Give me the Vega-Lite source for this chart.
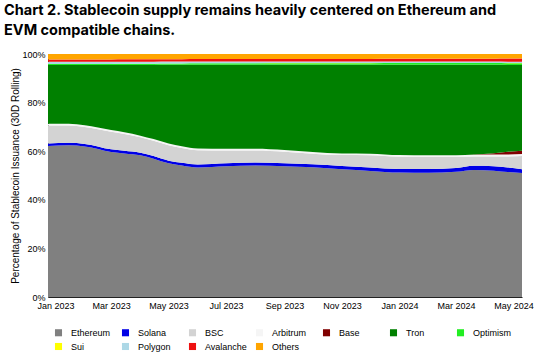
{
  "$schema": "https://vega.github.io/schema/vega-lite/v6.json",
  "autosize": {"type": "none"},
  "width": 474,
  "height": 243,
  "padding": {"left": 48, "top": 54, "right": 12, "bottom": 59},
  "background": "white",
  "title": {
    "text": ["Chart 2. Stablecoin supply remains heavily centered on Ethereum and", "EVM compatible chains."],
    "anchor": "start",
    "frame": "group",
    "dx": -44,
    "offset": 12,
    "font": "Inter",
    "fontSize": 14.5,
    "fontWeight": "bold",
    "lineHeight": 20,
    "color": "#000000"
  },
  "datasets": {
    "shares": [
      {"date":"2022-12-24","chain":"Ethereum","share":62.1},{"date":"2022-12-24","chain":"Solana","share":1.1},{"date":"2022-12-24","chain":"BSC","share":7.4},{"date":"2022-12-24","chain":"Arbitrum","share":0.7},{"date":"2022-12-24","chain":"Base","share":0},{"date":"2022-12-24","chain":"Tron","share":24.15},{"date":"2022-12-24","chain":"Optimism","share":0.4},{"date":"2022-12-24","chain":"Sui","share":0.05},{"date":"2022-12-24","chain":"Polygon","share":0.9},{"date":"2022-12-24","chain":"Avalanche","share":0.9},{"date":"2022-12-24","chain":"Others","share":2.3},
      {"date":"2023-01-15","chain":"Ethereum","share":62.4},{"date":"2023-01-15","chain":"Solana","share":1.1},{"date":"2023-01-15","chain":"BSC","share":7.1},{"date":"2023-01-15","chain":"Arbitrum","share":0.7},{"date":"2023-01-15","chain":"Base","share":0},{"date":"2023-01-15","chain":"Tron","share":24.15},{"date":"2023-01-15","chain":"Optimism","share":0.4},{"date":"2023-01-15","chain":"Sui","share":0.05},{"date":"2023-01-15","chain":"Polygon","share":0.9},{"date":"2023-01-15","chain":"Avalanche","share":0.9},{"date":"2023-01-15","chain":"Others","share":2.3},
      {"date":"2023-02-01","chain":"Ethereum","share":61.9},{"date":"2023-02-01","chain":"Solana","share":1.1},{"date":"2023-02-01","chain":"BSC","share":7.0},{"date":"2023-02-01","chain":"Arbitrum","share":0.7},{"date":"2023-02-01","chain":"Base","share":0},{"date":"2023-02-01","chain":"Tron","share":24.75},{"date":"2023-02-01","chain":"Optimism","share":0.4},{"date":"2023-02-01","chain":"Sui","share":0.05},{"date":"2023-02-01","chain":"Polygon","share":0.9},{"date":"2023-02-01","chain":"Avalanche","share":0.9},{"date":"2023-02-01","chain":"Others","share":2.3},
      {"date":"2023-03-01","chain":"Ethereum","share":59.7},{"date":"2023-03-01","chain":"Solana","share":1.1},{"date":"2023-03-01","chain":"BSC","share":7.2},{"date":"2023-03-01","chain":"Arbitrum","share":0.7},{"date":"2023-03-01","chain":"Base","share":0},{"date":"2023-03-01","chain":"Tron","share":26.75},{"date":"2023-03-01","chain":"Optimism","share":0.4},{"date":"2023-03-01","chain":"Sui","share":0.05},{"date":"2023-03-01","chain":"Polygon","share":0.9},{"date":"2023-03-01","chain":"Avalanche","share":0.9},{"date":"2023-03-01","chain":"Others","share":2.3},
      {"date":"2023-03-15","chain":"Ethereum","share":59.1},{"date":"2023-03-15","chain":"Solana","share":1.1},{"date":"2023-03-15","chain":"BSC","share":6.9},{"date":"2023-03-15","chain":"Arbitrum","share":0.7},{"date":"2023-03-15","chain":"Base","share":0},{"date":"2023-03-15","chain":"Tron","share":27.7},{"date":"2023-03-15","chain":"Optimism","share":0.45},{"date":"2023-03-15","chain":"Sui","share":0.05},{"date":"2023-03-15","chain":"Polygon","share":0.85},{"date":"2023-03-15","chain":"Avalanche","share":0.95},{"date":"2023-03-15","chain":"Others","share":2.2},
      {"date":"2023-04-01","chain":"Ethereum","share":58.3},{"date":"2023-04-01","chain":"Solana","share":1.1},{"date":"2023-04-01","chain":"BSC","share":6.3},{"date":"2023-04-01","chain":"Arbitrum","share":0.7},{"date":"2023-04-01","chain":"Base","share":0},{"date":"2023-04-01","chain":"Tron","share":29.1},{"date":"2023-04-01","chain":"Optimism","share":0.45},{"date":"2023-04-01","chain":"Sui","share":0.05},{"date":"2023-04-01","chain":"Polygon","share":0.85},{"date":"2023-04-01","chain":"Avalanche","share":0.95},{"date":"2023-04-01","chain":"Others","share":2.2},
      {"date":"2023-04-15","chain":"Ethereum","share":56.9},{"date":"2023-04-15","chain":"Solana","share":1.1},{"date":"2023-04-15","chain":"BSC","share":6.3},{"date":"2023-04-15","chain":"Arbitrum","share":0.7},{"date":"2023-04-15","chain":"Base","share":0},{"date":"2023-04-15","chain":"Tron","share":30.5},{"date":"2023-04-15","chain":"Optimism","share":0.45},{"date":"2023-04-15","chain":"Sui","share":0.05},{"date":"2023-04-15","chain":"Polygon","share":0.85},{"date":"2023-04-15","chain":"Avalanche","share":0.95},{"date":"2023-04-15","chain":"Others","share":2.2},
      {"date":"2023-05-01","chain":"Ethereum","share":55.0},{"date":"2023-05-01","chain":"Solana","share":1.1},{"date":"2023-05-01","chain":"BSC","share":6.4},{"date":"2023-05-01","chain":"Arbitrum","share":0.7},{"date":"2023-05-01","chain":"Base","share":0},{"date":"2023-05-01","chain":"Tron","share":32.35},{"date":"2023-05-01","chain":"Optimism","share":0.5},{"date":"2023-05-01","chain":"Sui","share":0.05},{"date":"2023-05-01","chain":"Polygon","share":0.8},{"date":"2023-05-01","chain":"Avalanche","share":0.95},{"date":"2023-05-01","chain":"Others","share":2.15},
      {"date":"2023-05-15","chain":"Ethereum","share":54.1},{"date":"2023-05-15","chain":"Solana","share":1.1},{"date":"2023-05-15","chain":"BSC","share":6.1},{"date":"2023-05-15","chain":"Arbitrum","share":0.7},{"date":"2023-05-15","chain":"Base","share":0},{"date":"2023-05-15","chain":"Tron","share":33.55},{"date":"2023-05-15","chain":"Optimism","share":0.5},{"date":"2023-05-15","chain":"Sui","share":0.05},{"date":"2023-05-15","chain":"Polygon","share":0.8},{"date":"2023-05-15","chain":"Avalanche","share":0.95},{"date":"2023-05-15","chain":"Others","share":2.15},
      {"date":"2023-06-01","chain":"Ethereum","share":53.3},{"date":"2023-06-01","chain":"Solana","share":1.2},{"date":"2023-06-01","chain":"BSC","share":5.9},{"date":"2023-06-01","chain":"Arbitrum","share":0.7},{"date":"2023-06-01","chain":"Base","share":0},{"date":"2023-06-01","chain":"Tron","share":34.5},{"date":"2023-06-01","chain":"Optimism","share":0.55},{"date":"2023-06-01","chain":"Sui","share":0.05},{"date":"2023-06-01","chain":"Polygon","share":0.75},{"date":"2023-06-01","chain":"Avalanche","share":1.0},{"date":"2023-06-01","chain":"Others","share":2.05},
      {"date":"2023-07-01","chain":"Ethereum","share":53.8},{"date":"2023-07-01","chain":"Solana","share":1.2},{"date":"2023-07-01","chain":"BSC","share":5.3},{"date":"2023-07-01","chain":"Arbitrum","share":0.7},{"date":"2023-07-01","chain":"Base","share":0},{"date":"2023-07-01","chain":"Tron","share":34.6},{"date":"2023-07-01","chain":"Optimism","share":0.55},{"date":"2023-07-01","chain":"Sui","share":0.05},{"date":"2023-07-01","chain":"Polygon","share":0.75},{"date":"2023-07-01","chain":"Avalanche","share":1.0},{"date":"2023-07-01","chain":"Others","share":2.05},
      {"date":"2023-08-01","chain":"Ethereum","share":54.1},{"date":"2023-08-01","chain":"Solana","share":1.2},{"date":"2023-08-01","chain":"BSC","share":5.0},{"date":"2023-08-01","chain":"Arbitrum","share":0.7},{"date":"2023-08-01","chain":"Base","share":0},{"date":"2023-08-01","chain":"Tron","share":34.6},{"date":"2023-08-01","chain":"Optimism","share":0.55},{"date":"2023-08-01","chain":"Sui","share":0.05},{"date":"2023-08-01","chain":"Polygon","share":0.75},{"date":"2023-08-01","chain":"Avalanche","share":1.0},{"date":"2023-08-01","chain":"Others","share":2.05},
      {"date":"2023-09-01","chain":"Ethereum","share":53.8},{"date":"2023-09-01","chain":"Solana","share":1.2},{"date":"2023-09-01","chain":"BSC","share":4.8},{"date":"2023-09-01","chain":"Arbitrum","share":0.7},{"date":"2023-09-01","chain":"Base","share":0},{"date":"2023-09-01","chain":"Tron","share":35.1},{"date":"2023-09-01","chain":"Optimism","share":0.6},{"date":"2023-09-01","chain":"Sui","share":0.05},{"date":"2023-09-01","chain":"Polygon","share":0.7},{"date":"2023-09-01","chain":"Avalanche","share":1.0},{"date":"2023-09-01","chain":"Others","share":2.05},
      {"date":"2023-10-01","chain":"Ethereum","share":53.4},{"date":"2023-10-01","chain":"Solana","share":1.2},{"date":"2023-10-01","chain":"BSC","share":4.4},{"date":"2023-10-01","chain":"Arbitrum","share":0.7},{"date":"2023-10-01","chain":"Base","share":0},{"date":"2023-10-01","chain":"Tron","share":35.9},{"date":"2023-10-01","chain":"Optimism","share":0.6},{"date":"2023-10-01","chain":"Sui","share":0.05},{"date":"2023-10-01","chain":"Polygon","share":0.7},{"date":"2023-10-01","chain":"Avalanche","share":1.0},{"date":"2023-10-01","chain":"Others","share":2.05},
      {"date":"2023-11-01","chain":"Ethereum","share":52.6},{"date":"2023-11-01","chain":"Solana","share":1.3},{"date":"2023-11-01","chain":"BSC","share":4.5},{"date":"2023-11-01","chain":"Arbitrum","share":0.7},{"date":"2023-11-01","chain":"Base","share":0},{"date":"2023-11-01","chain":"Tron","share":36.5},{"date":"2023-11-01","chain":"Optimism","share":0.6},{"date":"2023-11-01","chain":"Sui","share":0.05},{"date":"2023-11-01","chain":"Polygon","share":0.7},{"date":"2023-11-01","chain":"Avalanche","share":1.0},{"date":"2023-11-01","chain":"Others","share":2.05},
      {"date":"2023-12-01","chain":"Ethereum","share":51.9},{"date":"2023-12-01","chain":"Solana","share":1.4},{"date":"2023-12-01","chain":"BSC","share":5.0},{"date":"2023-12-01","chain":"Arbitrum","share":0.7},{"date":"2023-12-01","chain":"Base","share":0},{"date":"2023-12-01","chain":"Tron","share":36.6},{"date":"2023-12-01","chain":"Optimism","share":0.6},{"date":"2023-12-01","chain":"Sui","share":0.05},{"date":"2023-12-01","chain":"Polygon","share":0.7},{"date":"2023-12-01","chain":"Avalanche","share":1.0},{"date":"2023-12-01","chain":"Others","share":2.05},
      {"date":"2024-01-01","chain":"Ethereum","share":51.2},{"date":"2024-01-01","chain":"Solana","share":1.5},{"date":"2024-01-01","chain":"BSC","share":5.0},{"date":"2024-01-01","chain":"Arbitrum","share":0.7},{"date":"2024-01-01","chain":"Base","share":0},{"date":"2024-01-01","chain":"Tron","share":37.2},{"date":"2024-01-01","chain":"Optimism","share":0.65},{"date":"2024-01-01","chain":"Sui","share":0.05},{"date":"2024-01-01","chain":"Polygon","share":0.65},{"date":"2024-01-01","chain":"Avalanche","share":1.05},{"date":"2024-01-01","chain":"Others","share":2.0},
      {"date":"2024-02-01","chain":"Ethereum","share":51.1},{"date":"2024-02-01","chain":"Solana","share":1.6},{"date":"2024-02-01","chain":"BSC","share":4.9},{"date":"2024-02-01","chain":"Arbitrum","share":0.7},{"date":"2024-02-01","chain":"Base","share":0},{"date":"2024-02-01","chain":"Tron","share":37.3},{"date":"2024-02-01","chain":"Optimism","share":0.65},{"date":"2024-02-01","chain":"Sui","share":0.05},{"date":"2024-02-01","chain":"Polygon","share":0.65},{"date":"2024-02-01","chain":"Avalanche","share":1.05},{"date":"2024-02-01","chain":"Others","share":2.0},
      {"date":"2024-03-01","chain":"Ethereum","share":51.5},{"date":"2024-03-01","chain":"Solana","share":1.6},{"date":"2024-03-01","chain":"BSC","share":4.5},{"date":"2024-03-01","chain":"Arbitrum","share":0.7},{"date":"2024-03-01","chain":"Base","share":0},{"date":"2024-03-01","chain":"Tron","share":37.3},{"date":"2024-03-01","chain":"Optimism","share":0.65},{"date":"2024-03-01","chain":"Sui","share":0.05},{"date":"2024-03-01","chain":"Polygon","share":0.65},{"date":"2024-03-01","chain":"Avalanche","share":1.05},{"date":"2024-03-01","chain":"Others","share":2.0},
      {"date":"2024-03-20","chain":"Ethereum","share":52.3},{"date":"2024-03-20","chain":"Solana","share":1.7},{"date":"2024-03-20","chain":"BSC","share":3.8},{"date":"2024-03-20","chain":"Arbitrum","share":0.7},{"date":"2024-03-20","chain":"Base","share":0.1},{"date":"2024-03-20","chain":"Tron","share":37.0},{"date":"2024-03-20","chain":"Optimism","share":0.65},{"date":"2024-03-20","chain":"Sui","share":0.05},{"date":"2024-03-20","chain":"Polygon","share":0.65},{"date":"2024-03-20","chain":"Avalanche","share":1.05},{"date":"2024-03-20","chain":"Others","share":2.0},
      {"date":"2024-04-10","chain":"Ethereum","share":52.0},{"date":"2024-04-10","chain":"Solana","share":1.8},{"date":"2024-04-10","chain":"BSC","share":4.0},{"date":"2024-04-10","chain":"Arbitrum","share":0.8},{"date":"2024-04-10","chain":"Base","share":0.6},{"date":"2024-04-10","chain":"Tron","share":36.35},{"date":"2024-04-10","chain":"Optimism","share":0.7},{"date":"2024-04-10","chain":"Sui","share":0.05},{"date":"2024-04-10","chain":"Polygon","share":0.6},{"date":"2024-04-10","chain":"Avalanche","share":1.1},{"date":"2024-04-10","chain":"Others","share":2.0},
      {"date":"2024-04-25","chain":"Ethereum","share":51.4},{"date":"2024-04-25","chain":"Solana","share":1.9},{"date":"2024-04-25","chain":"BSC","share":4.5},{"date":"2024-04-25","chain":"Arbitrum","share":0.8},{"date":"2024-04-25","chain":"Base","share":1.2},{"date":"2024-04-25","chain":"Tron","share":35.7},{"date":"2024-04-25","chain":"Optimism","share":0.7},{"date":"2024-04-25","chain":"Sui","share":0.1},{"date":"2024-04-25","chain":"Polygon","share":0.55},{"date":"2024-04-25","chain":"Avalanche","share":1.25},{"date":"2024-04-25","chain":"Others","share":1.9},
      {"date":"2024-05-10","chain":"Ethereum","share":51.0},{"date":"2024-05-10","chain":"Solana","share":1.6},{"date":"2024-05-10","chain":"BSC","share":5.4},{"date":"2024-05-10","chain":"Arbitrum","share":0.8},{"date":"2024-05-10","chain":"Base","share":1.4},{"date":"2024-05-10","chain":"Tron","share":35.3},{"date":"2024-05-10","chain":"Optimism","share":0.7},{"date":"2024-05-10","chain":"Sui","share":0.1},{"date":"2024-05-10","chain":"Polygon","share":0.55},{"date":"2024-05-10","chain":"Avalanche","share":1.25},{"date":"2024-05-10","chain":"Others","share":1.9}
    ]
  },
  "data": {"name": "shares"},
  "transform": [
    {"calculate": "indexof(['Ethereum','Solana','BSC','Arbitrum','Base','Tron','Optimism','Sui','Polygon','Avalanche','Others'], datum.chain)", "as": "stackOrder"}
  ],
  "mark": {"type": "area", "interpolate": "monotone"},
  "encoding": {
    "x": {
      "field": "date",
      "type": "temporal",
      "scale": {"domain": ["2022-12-24", "2024-05-10"]},
      "axis": {
        "title": null,
        "format": "%b %Y",
        "tickCount": {"interval": "month", "step": 2},
        "labelFont": "Liberation Sans",
        "labelFontSize": 9,
        "labelColor": "#000000",
        "labelPadding": 4,
        "ticks": false,
        "grid": false,
        "domainColor": "#222222",
        "labelOverlap": false,
        "labelFlush": false
      }
    },
    "y": {
      "field": "share",
      "type": "quantitative",
      "stack": "zero",
      "scale": {"domain": [0, 100], "nice": false},
      "axis": {
        "title": "Percentage of Stablecoin Issuance (30D Rolling)",
        "titleFont": "Liberation Sans",
        "titleFontSize": 10,
        "titleFontWeight": "normal",
        "titleColor": "#000000",
        "titlePadding": 1,
        "values": [0, 20, 40, 60, 80, 100],
        "labelExpr": "datum.value + '%'",
        "labelFont": "Liberation Sans",
        "labelFontSize": 9,
        "labelColor": "#000000",
        "labelPadding": 3,
        "ticks": false,
        "grid": false,
        "domainColor": "#222222"
      }
    },
    "order": {"field": "stackOrder", "type": "quantitative", "sort": "ascending"},
    "color": {
      "field": "chain",
      "type": "nominal",
      "sort": ["Ethereum", "Solana", "BSC", "Arbitrum", "Base", "Tron", "Optimism", "Sui", "Polygon", "Avalanche", "Others"],
      "scale": {
        "domain": ["Ethereum", "Solana", "BSC", "Arbitrum", "Base", "Tron", "Optimism", "Sui", "Polygon", "Avalanche", "Others"],
        "range": ["#808080", "#0000e6", "#d3d3d3", "#f5f5f5", "#800000", "#008000", "#22ee22", "#ffff00", "#add8e6", "#ee1111", "#ffa500"]
      },
      "legend": {
        "title": null,
        "orient": "bottom",
        "direction": "horizontal",
        "columns": 7,
        "gridAlign": "all",
        "columnPadding": 8,
        "rowPadding": 4,
        "padding": 6,
        "symbolType": "square",
        "symbolSize": 50,
        "symbolStrokeWidth": 0,
        "labelFont": "Liberation Sans",
        "labelFontSize": 9,
        "labelColor": "#000000",
        "labelOffset": 8,
        "offset": 12
      }
    }
  },
  "config": {"view": {"stroke": null}}
}
